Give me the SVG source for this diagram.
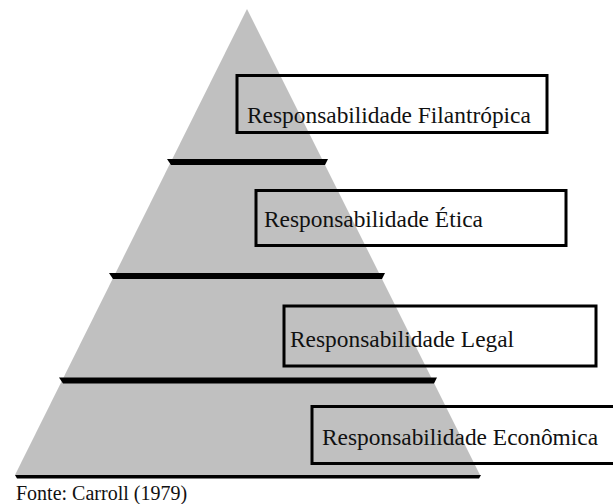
<svg xmlns="http://www.w3.org/2000/svg" width="613" height="504" viewBox="0 0 613 504">
  <style>
    .pyr { fill: #c0c0c0; }
    .bar { fill: #000; }
    .box { fill: none; stroke: #000; stroke-width: 3; }
    text { font-family: 'Liberation Serif', 'DejaVu Serif', serif; fill: #111; }
    .lbl { font-size: 23.4px; }
    .src { font-size: 20px; }
  </style>
  <rect width="613" height="504" fill="#fff"/>

  <!-- pyramid body -->
  <polygon class="pyr" points="247,9 480,475 15,475"/>

  <!-- level dividers -->
  <g id="dividers">
    <polygon class="bar" points="167,159 328,159 325,165 171,165"/>
    <polygon class="bar" points="109,273 385,273 382,279 113,279"/>
    <polygon class="bar" points="59,377.5 437,377.5 434,383.5 63,383.5"/>
    <polygon class="bar" points="15,475 481,475 479,478.5 17,478.5"/>
  </g>

  <g id="filantropica">
    <rect class="box" x="237" y="75.5" width="310" height="57"/>
    <text class="lbl" x="247" y="123">Responsabilidade Filantrópica</text>
  </g>

  <g id="etica">
    <rect class="box" x="256" y="190.5" width="310" height="55"/>
    <text class="lbl" x="264" y="227">Responsabilidade Ética</text>
  </g>

  <g id="legal">
    <rect class="box" x="284" y="306" width="312" height="60"/>
    <text class="lbl" x="290" y="347">Responsabilidade Legal</text>
  </g>

  <g id="economica">
    <rect class="box" x="312" y="406.5" width="312" height="57"/>
    <text class="lbl" x="322" y="445">Responsabilidade Econômica</text>
  </g>

  <text class="src" x="16" y="500">Fonte: Carroll (1979)</text>
</svg>
